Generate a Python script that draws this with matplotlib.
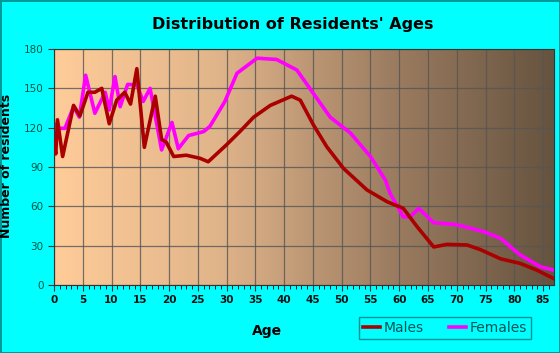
import numpy as np
import matplotlib.pyplot as plt
from matplotlib.colors import LinearSegmentedColormap

male_age = [0, 0.3, 0.6, 1.5, 3.4, 4.5, 5.9, 7.1, 8.3, 9.6, 10.9, 12.3, 13.3, 14.4, 15.7,
            17.6, 18.7, 19.5, 20.8, 23, 25.4, 26.8, 30, 32.3, 34.7, 37.6, 41.3, 42.8, 45.1,
            47.4, 50.3, 54.4, 57.9, 60.7, 63.1, 66, 68.3, 71.8, 74.1, 77.6, 81, 83.9, 86.8]
males = [110, 100, 126, 98, 137, 129, 147, 147, 150, 123, 141, 147, 138, 165, 105,
         144, 111, 109, 98, 99, 96.6, 94, 107, 117, 128, 137, 144, 141, 122,
         105.5, 89, 72.5, 63.5, 58.5, 44.5, 29, 31, 30.5, 27, 20, 16.5, 11.4, 5]

female_age = [0, 1, 1.9, 3.4, 4.4, 5.5, 7.1, 8.9, 9.6, 10.6, 11.5, 12.8, 14.4, 15.5, 16.7,
              18.7, 20.5, 21.6, 23.4, 26, 27.1, 29.7, 31.8, 35.3, 38.7, 42.2, 45.1, 48,
              51.5, 55, 57.6, 58.4, 60.7, 61.9, 63.4, 66, 70, 74.7, 77.6, 81, 84.5, 86.8]
females = [123, 119.5, 119.5, 136, 128, 160, 131, 147, 133.5, 159, 136, 153, 152.5, 140, 150,
           103, 124, 104, 114, 117, 121, 140, 161.5, 173, 172, 164, 146, 128,
           116, 98, 80, 70, 52, 52, 58.5, 47.5, 46, 40.7, 35.6, 23, 14, 11.4]

xticks = list(range(0, 90, 5))
yticks = list(range(0, 181, 30))

fig = plt.figure(figsize=(5.6, 3.53), dpi=100)
fig.patch.set_facecolor('#00FFFF')
fig.patch.set_edgecolor('#009999')
fig.patch.set_linewidth(2)

ax = fig.add_axes([54/560, 1-285/353, 500/560, 236/353])
xmax = 86.9
cmap = LinearSegmentedColormap.from_list('bg', ['#FFCC99', '#E0B48A', '#9E7E62', '#66533F'])
grad = np.linspace(0, 1, 256).reshape(1, -1)
ax.imshow(grad, cmap=cmap, aspect='auto', extent=[0, xmax, 0, 180], zorder=0)

ax.plot(male_age, males, color='#AA0000', lw=2.6, label='Males', zorder=3, solid_joinstyle='round')
ax.plot(female_age, females, color='#FF00FF', lw=2.6, label='Females', zorder=2, solid_joinstyle='round')

ax.set_xlim(0, xmax)
ax.set_ylim(0, 180)
ax.set_xticks(xticks)
ax.set_xticks(range(0, 87), minor=True)
ax.set_yticks(yticks)
ax.grid(True, color='#555555', lw=0.9, alpha=0.8)
ax.tick_params(axis='both', length=4, width=0.8, colors='#333333')
ax.tick_params(axis='x', labelsize=7.5, labelcolor='#111111')
ax.tick_params(axis='y', labelsize=7.5, labelcolor='#005544')
ax.tick_params(axis='x', which='minor', length=3, width=0.6)
for lbl in ax.get_xticklabels():
    lbl.set_fontweight('bold')
for s in ax.spines.values():
    s.set_color('#333333')

fig.text(0.523, 1-24/353, "Distribution of Residents' Ages", ha='center', va='center',
         fontsize=11.5, fontweight='bold')
ax.set_xlabel('Age', fontsize=10, fontweight='bold')
ax.xaxis.set_label_coords((267-54)/500, -(324-285)/236)
ax.set_ylabel('Number of residents', fontsize=9, fontweight='bold')
ax.yaxis.set_label_coords(-(54-13)/500, (285-166)/236)

leg = fig.legend(loc='center', bbox_to_anchor=(445/560, 1-328/353), ncol=2, fontsize=10,
                 frameon=True, fancybox=False, handlelength=1.2, handletextpad=0.3,
                 columnspacing=1.8, borderpad=0.3)
leg.get_frame().set_edgecolor('#007777')
leg.get_frame().set_facecolor('#00FFFF')
leg.get_frame().set_linewidth(1)
for t in leg.get_texts():
    t.set_color('#005555')

fig.savefig('out.png', dpi=100, facecolor=fig.get_facecolor(), edgecolor=fig.get_edgecolor())
